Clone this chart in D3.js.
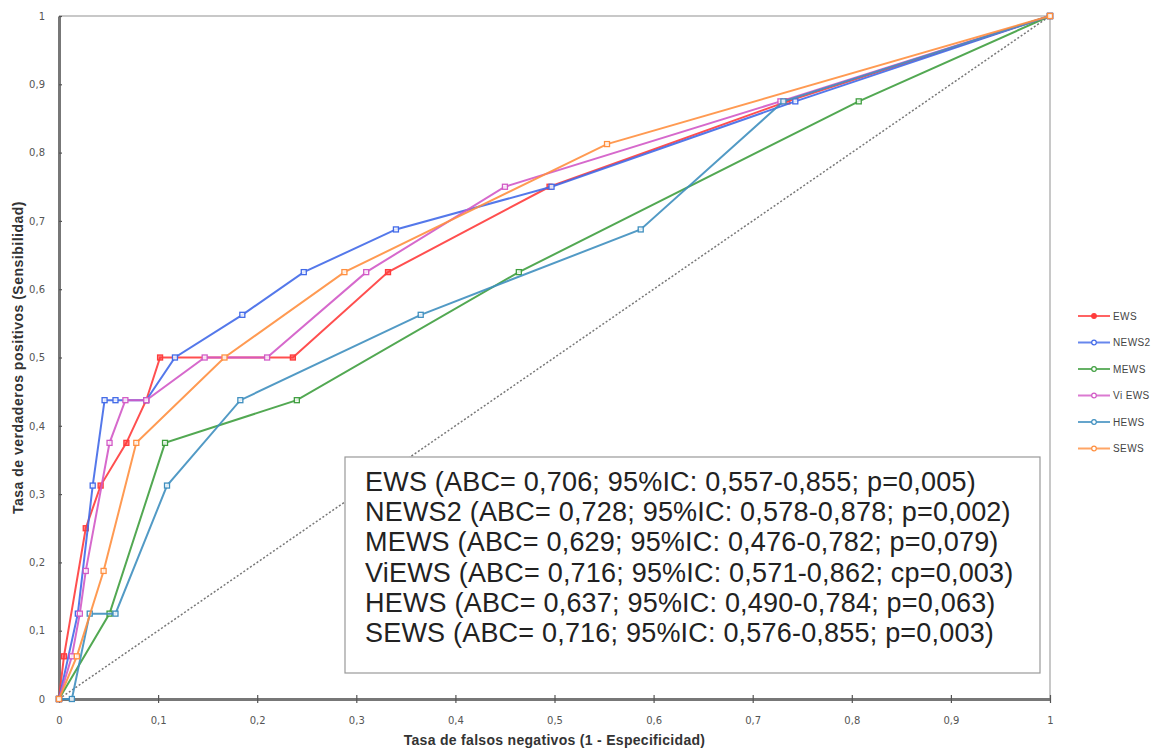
<!DOCTYPE html>
<html>
<head>
<meta charset="utf-8">
<script src="https://cdn.jsdelivr.net/npm/d3@7"></script>
<style>
  body { margin: 0; background: #fff; }
  svg { display: block; font-family: "Liberation Sans", Arial, sans-serif; }
</style>
</head>
<body>
<div id="roc"></div>
<script>
// ROC points [1 - especificidad, sensibilidad] for each score
const ews   = [[0,0],[0.005,0.0625],[0.027,0.25],[0.042,0.3125],[0.068,0.375],[0.088,0.4375],[0.102,0.5],[0.236,0.5],[0.332,0.625],[0.495,0.75],[0.735,0.875],[1,1]];
const news2 = [[0,0],[0.019,0.125],[0.034,0.3125],[0.046,0.4375],[0.057,0.4375],[0.088,0.4375],[0.117,0.5],[0.185,0.5625],[0.247,0.625],[0.34,0.6875],[0.497,0.75],[0.743,0.875],[1,1]];
const mews  = [[0,0],[0.051,0.125],[0.107,0.375],[0.24,0.4375],[0.464,0.625],[0.807,0.875],[1,1]];
const views = [[0,0],[0.013,0.0625],[0.021,0.125],[0.027,0.1875],[0.051,0.375],[0.067,0.4375],[0.088,0.4375],[0.147,0.5],[0.21,0.5],[0.31,0.625],[0.45,0.75],[0.728,0.875],[1,1]];
const hews  = [[0,0],[0.013,0],[0.031,0.125],[0.057,0.125],[0.109,0.3125],[0.183,0.4375],[0.365,0.5625],[0.587,0.6875],[0.731,0.875],[1,1]];
const sews  = [[0,0],[0.018,0.0625],[0.045,0.1875],[0.078,0.375],[0.167,0.5],[0.288,0.625],[0.553,0.8125],[1,1]];

const seriesNames = ["EWS", "NEWS2", "MEWS", "ViEWS", "HEWS", "SEWS"];
const legendLabels = ["EWS", "NEWS2", "MEWS", "Vi EWS", "HEWS", "SEWS"];
const seriesColors = ["#ff3c3c", "#4169e8", "#3f9e3f", "#d259c6", "#3f8fbf", "#ff8f3f"];
const ticks = [0, 0.1, 0.2, 0.3, 0.4, 0.5, 0.6, 0.7, 0.8, 0.9, 1];

const statsText = [
  "EWS (ABC= 0,706; 95%IC: 0,557-0,855; p=0,005)",
  "NEWS2 (ABC= 0,728; 95%IC: 0,578-0,878; p=0,002)",
  "MEWS (ABC= 0,629; 95%IC: 0,476-0,782; p=0,079)",
  "ViEWS (ABC= 0,716; 95%IC: 0,571-0,862; cp=0,003)",
  "HEWS (ABC= 0,637; 95%IC: 0,490-0,784; p=0,063)",
  "SEWS (ABC= 0,716; 95%IC: 0,576-0,855; p=0,003)"
];

const allSeries = [ews, news2, mews, views, hews, sews];

const W = 1159, H = 749;
const margin = { top: 16, right: 109, bottom: 50, left: 59 },
  width = W - margin.left - margin.right,
  height = H - margin.top - margin.bottom;

const svg = d3.select("#roc").append("svg")
  .attr("width", W)
  .attr("height", H);

const g = svg.append("g")
  .attr("transform", `translate(${margin.left},${margin.top})`);

const x = d3.scaleLinear().domain([0, 1]).range([0, width]);
const y = d3.scaleLinear().domain([0, 1]).range([height, 0]);

const fmt = d => d3.format("~g")(d).replace(".", ",");

// light frame on top / right
g.append("line").attr("x1", 0).attr("x2", width).attr("y1", 0).attr("y2", 0)
  .attr("stroke", "#c8c8c8").attr("stroke-width", 2);
g.append("line").attr("x1", width).attr("x2", width).attr("y1", 0).attr("y2", height)
  .attr("stroke", "#c8c8c8").attr("stroke-width", 2);

// chance diagonal
g.append("line")
  .attr("x1", x(0)).attr("y1", y(0)).attr("x2", x(1)).attr("y2", y(1))
  .attr("stroke", "#777").attr("stroke-width", 1.5).attr("stroke-dasharray", "2,2");

// axes
const xAxis = g.append("g")
  .attr("transform", `translate(0,${height})`)
  .call(d3.axisBottom(x).tickValues(ticks).tickFormat(fmt).tickSizeInner(4).tickSizeOuter(0).tickPadding(14));
const yAxis = g.append("g")
  .call(d3.axisLeft(y).tickValues(ticks).tickFormat(fmt).tickSizeInner(6).tickSizeOuter(0).tickPadding(8));

[xAxis, yAxis].forEach(a => {
  a.select(".domain").attr("stroke", "#777").attr("stroke-width", 3);
  a.selectAll(".tick line").attr("stroke", "#555").attr("stroke-width", 1.2);
  a.selectAll(".tick text").attr("fill", "#555").style("font-size", "10px")
    .style("font-family", "'DejaVu Sans', sans-serif");
});
// ticks crossing the axis
xAxis.selectAll(".tick line").attr("y1", -4);
yAxis.selectAll(".tick line").attr("x2", 3);

// axis titles
svg.append("text")
  .attr("x", margin.left + width / 2).attr("y", 745)
  .attr("text-anchor", "middle")
  .style("font-size", "14px").style("font-weight", "bold").style("letter-spacing", "0.3px")
  .attr("fill", "#333")
  .text("Tasa de falsos negativos (1 - Especificidad)");
svg.append("text")
  .attr("transform", `translate(23,${margin.top + height / 2}) rotate(-90)`)
  .attr("text-anchor", "middle")
  .style("font-size", "14px").style("font-weight", "bold").style("letter-spacing", "0.5px")
  .attr("fill", "#333")
  .text("Tasa de verdaderos positivos (Sensibilidad)");

// curves
const line = d3.line().x(d => x(d[0])).y(d => y(d[1]));

allSeries.forEach((data, i) => {
  const s = g.append("g").attr("class", "serie-" + seriesNames[i]);
  s.append("path")
    .datum(data)
    .attr("d", line)
    .attr("fill", "none")
    .attr("stroke", seriesColors[i])
    .attr("stroke-width", 2)
    .attr("stroke-opacity", 0.9);
  s.selectAll("rect")
    .data(data)
    .join("rect")
    .attr("x", d => x(d[0]) - 2.5)
    .attr("y", d => y(d[1]) - 2.5)
    .attr("width", 5)
    .attr("height", 5)
    .attr("fill", i === 0 ? seriesColors[i] : "#fff")
    .attr("fill-opacity", i === 0 ? 0.6 : 0.8)
    .attr("stroke", seriesColors[i])
    .attr("stroke-width", 1.3);
});

// legend on the right
const legend = svg.append("g").attr("transform", "translate(1078,316)");
seriesNames.forEach((n, i) => {
  const row = legend.append("g").attr("transform", `translate(0,${i * 26.5})`);
  row.append("line").attr("x1", 0).attr("x2", 32).attr("y1", 0).attr("y2", 0)
    .attr("stroke", seriesColors[i]).attr("stroke-width", 2).attr("stroke-opacity", 0.8);
  row.append("circle").attr("cx", 16).attr("cy", 0).attr("r", 2.3)
    .attr("fill", i === 0 ? seriesColors[i] : "#fff").attr("stroke", seriesColors[i]).attr("stroke-width", 1.2);
  row.append("text").attr("x", 35).attr("y", 3.5)
    .style("font-size", "10px").style("letter-spacing", "0.4px").attr("fill", "#444")
    .text(legendLabels[i]);
});

// annotation box with AUC stats
const box = svg.append("g");
box.append("rect")
  .attr("x", 345).attr("y", 457).attr("width", 695).attr("height", 216)
  .attr("fill", "#fff").attr("stroke", "#999").attr("stroke-width", 1.2);
box.selectAll("text.stat")
  .data(statsText)
  .join("text")
  .attr("class", "stat")
  .attr("x", 365)
  .attr("y", (d, i) => 491 + i * 30.2)
  .style("font-size", "27px")
  .style("letter-spacing", "0.2px")
  .attr("fill", "#222")
  .text(d => d);
</script>
</body>
</html>
